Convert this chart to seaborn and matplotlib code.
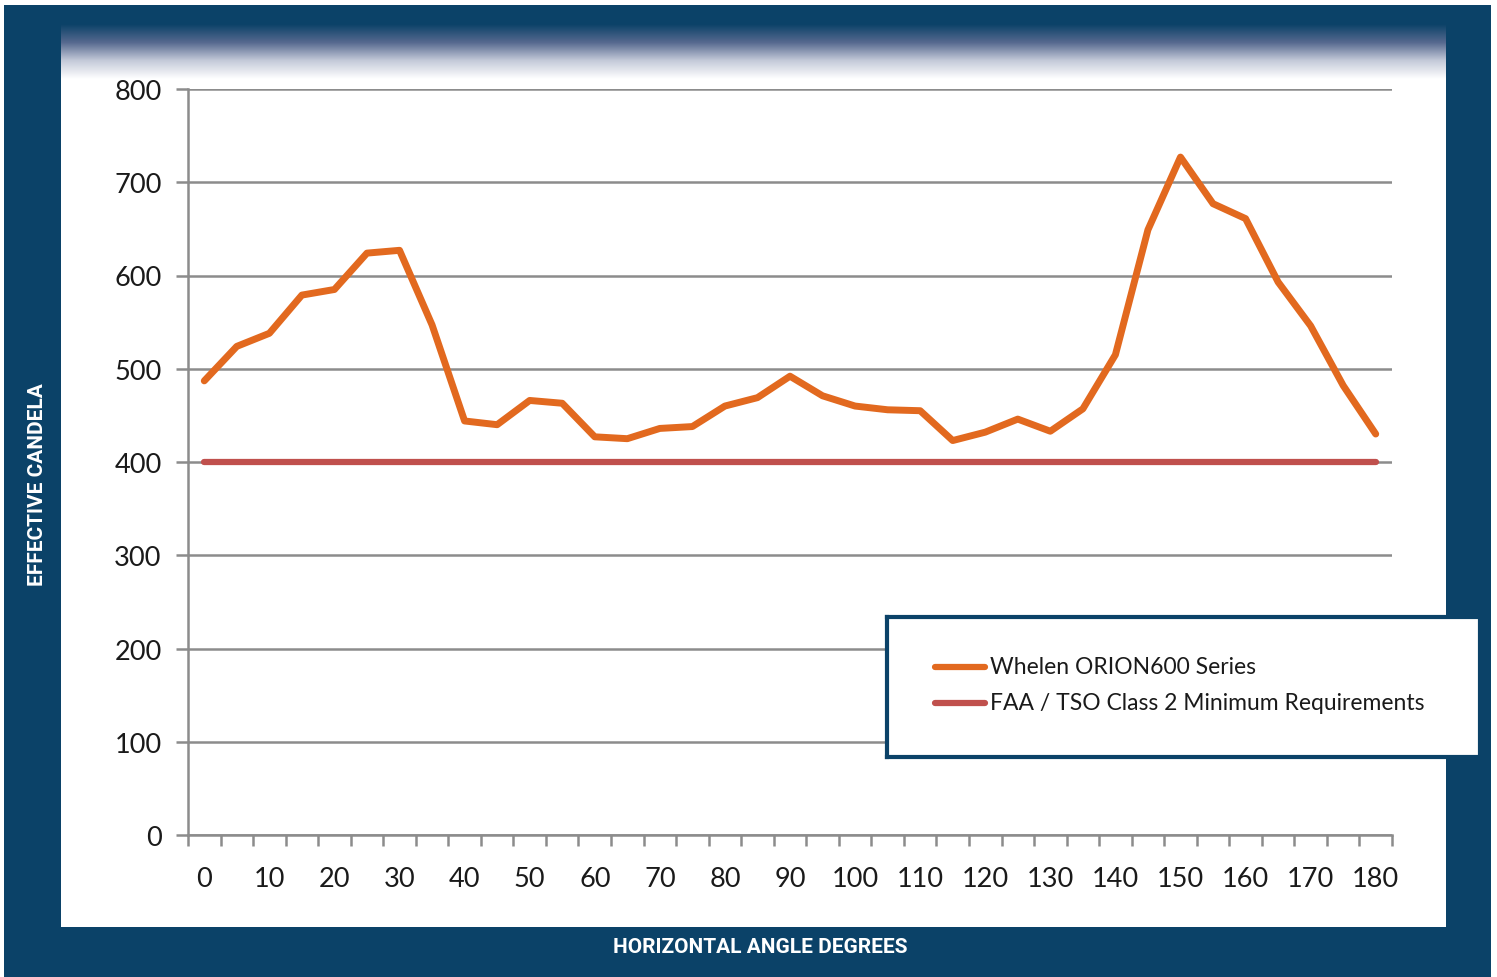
import numpy as np
import matplotlib
matplotlib.use("Agg")
import matplotlib.pyplot as plt
from matplotlib.patches import Rectangle
from matplotlib.colors import LinearSegmentedColormap
from matplotlib import font_manager
import seaborn as sns
import pandas as pd

# ---- data ----
angles = list(range(0, 181, 5))
orion600 = [487, 524, 538, 579, 585, 624, 627, 547, 444, 440, 466, 463, 427, 425,
            436, 438, 460, 469, 492, 471, 460, 456, 455, 423, 432, 446, 433, 457,
            515, 649, 727, 677, 661, 593, 546, 482, 430]
faa_min = [400] * len(angles)
series_names = ["Whelen ORION600 Series", "FAA / TSO Class 2 Minimum Requirements"]
y_ticks = [0, 100, 200, 300, 400, 500, 600, 700, 800]
x_tick_labels = list(range(0, 181, 10))

# ---- style ----
sns.set_theme(style="white")
names = {f.name for f in font_manager.fontManager.ttflist}
tick_font = [f for f in ["Lato", "Open Sans", "DejaVu Sans"] if f in names]
label_font = [f for f in ["Liberation Sans Narrow", "Roboto", "DejaVu Sans"] if f in names]
plt.rcParams["font.family"] = tick_font

W, H = 1497, 978
fig = plt.figure(figsize=(W / 100, H / 100), dpi=100)
fig.patch.set_facecolor("white")

BLUE = "#0b4268"
ORANGE = "#e2691f"
RED = "#c0504d"
GRID = "#8c8c8c"

# background frame
bg = fig.add_axes([0, 0, 1, 1], zorder=-10)
bg.axis("off")
bg.add_patch(Rectangle((4, 6), 1487, 975, facecolor=BLUE, edgecolor="none", zorder=1))
bg.add_patch(Rectangle((61, 25), 1385, 903, facecolor="white", edgecolor="none", zorder=2))
grad = np.linspace(0, 1, 200)[:, None]
cmap = LinearSegmentedColormap.from_list("g", [BLUE, "#56698f", "#c4cad9", "white"])
bg.imshow(grad, extent=(61, 1446, 80, 25), cmap=cmap, aspect="auto",
          interpolation="bilinear", zorder=3)
bg.set_xlim(0, W)
bg.set_ylim(H, 0)

# main axes
ax = fig.add_axes([188 / W, 1 - 836 / H, 1204 / W, 746 / H])
ax.set_facecolor("none")
df = pd.DataFrame({"angle": angles + angles,
                   "value": orion600 + faa_min,
                   "series": [series_names[0]] * len(angles) + [series_names[1]] * len(angles)})
sns.lineplot(data=df, x="angle", y="value", hue="series", hue_order=series_names,
             palette=[ORANGE, RED], ax=ax, linewidth=5, legend=False,
             solid_capstyle="round")
lines = ax.get_lines()
lines[1].set_linewidth(4.5)

ax.set_xlim(-2.5, 182.5)
ax.set_ylim(0, 800)
ax.set_yticks(y_ticks)
ax.set_xticks(x_tick_labels)
ax.set_xticklabels([str(v) for v in x_tick_labels])
ax.set_xticks(np.arange(-2.5, 183, 5), minor=True)
ax.grid(axis="y", color=GRID, linewidth=1.8)
ax.set_axisbelow(True)
for s in ["top", "right"]:
    ax.spines[s].set_visible(False)
for s in ["left", "bottom"]:
    ax.spines[s].set_color(GRID)
    ax.spines[s].set_linewidth(1.8)
ax.tick_params(axis="x", which="major", length=0, pad=22, labelsize=19.5, colors="#1a1a1a")
ax.tick_params(axis="x", which="minor", length=8, width=1.8, color=GRID, bottom=True)
ax.tick_params(axis="y", length=9, width=1.8, color=GRID, pad=10, labelsize=19.5,
               labelcolor="#1a1a1a", left=True)
ax.set_xlabel("")
ax.set_ylabel("")

# axis titles in the frame
fig.text(38 / W, 1 - 485 / H, "EFFECTIVE CANDELA", rotation=90, ha="center", va="center",
         color="white", fontsize=15, fontweight="bold", family=label_font)
fig.text(760 / W, 1 - 948 / H, "HORIZONTAL ANGLE DEGREES", ha="center", va="center",
         color="white", fontsize=15, fontweight="bold", family=label_font)

# legend box
lg = fig.add_axes([887 / W, 1 - 758 / H, 593 / W, 140 / H], zorder=5)
lg.set_xlim(0, 593)
lg.set_ylim(140, 0)
lg.set_xticks([])
lg.set_yticks([])
lg.set_facecolor("white")
for s in lg.spines.values():
    s.set_color(BLUE)
    s.set_linewidth(3)
for (y, c, name) in [(50, ORANGE, series_names[0]), (86, RED, series_names[1])]:
    lg.plot([48, 98], [y, y], color=c, linewidth=4.5, solid_capstyle="round")
    lg.text(103, y, name, va="center", ha="left", fontsize=16.5, color="#1a1a1a")

fig.savefig("out.png", dpi=100)
